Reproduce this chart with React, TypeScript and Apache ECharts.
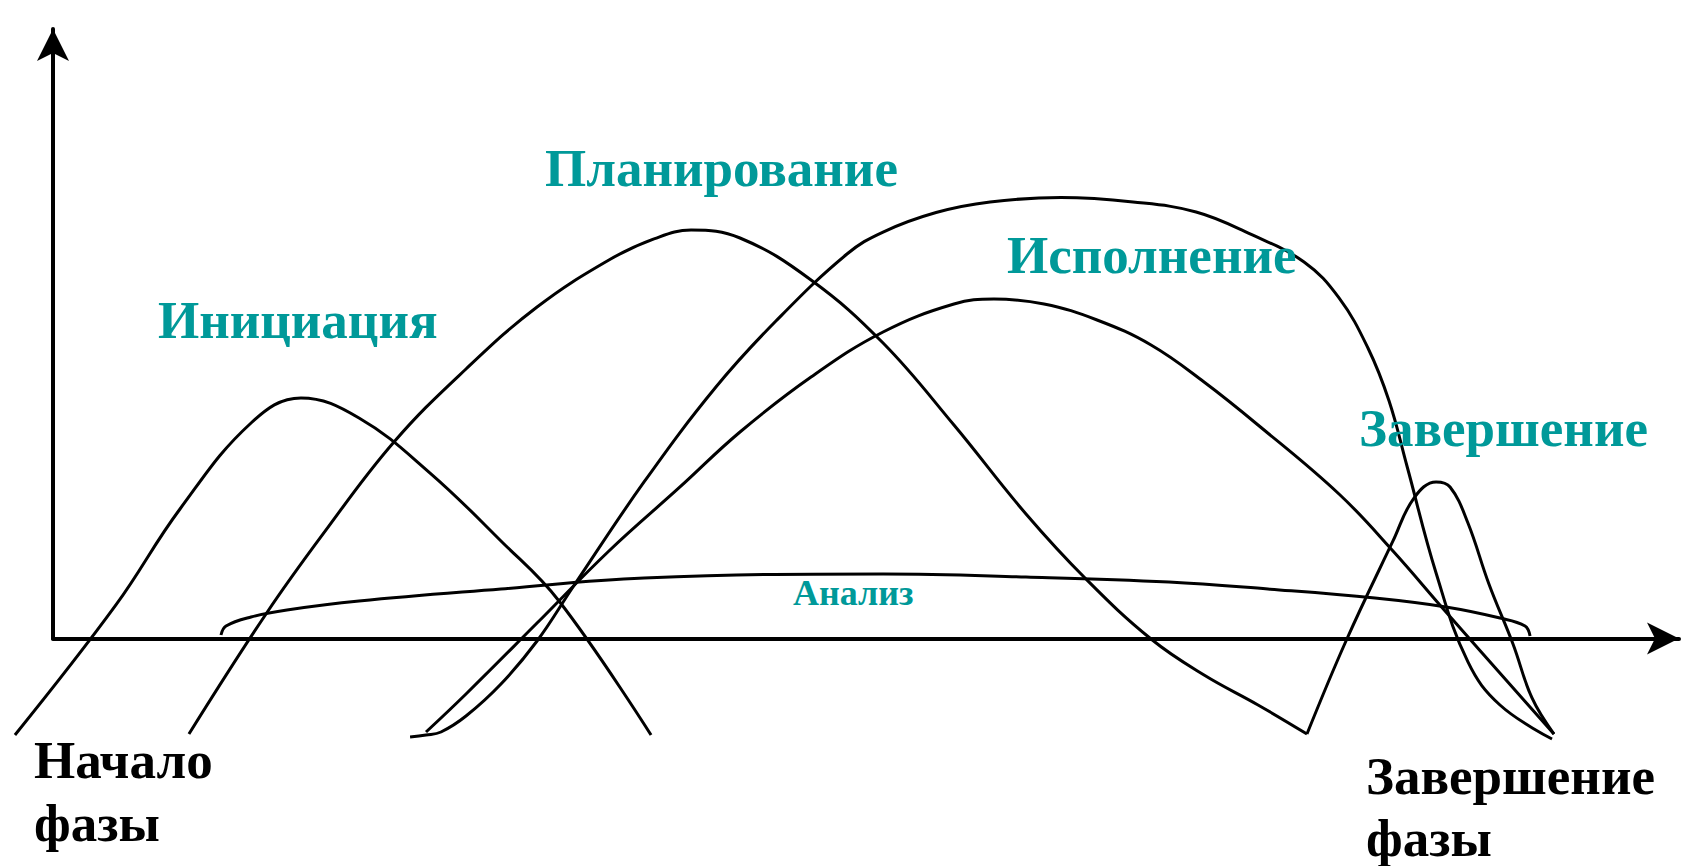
import React, { useEffect, useRef } from "react";
import * as echarts from "echarts";

// Curves: [time, level], axes span 0..100
const initiationCurve: number[][] = [
  [-2.34, -15.83], [3.87, 5.5], [7.81, 21.25], [12.18, 35.36], [15.25, 39.46],
  [18.82, 36.18], [23.19, 27.15], [27.55, 16.0], [31.12, 6.15], [36.78, -15.83],
];

const planningCurve: number[][] = [
  [8.36, -15.67], [13.1, 4.02], [16.61, 17.15], [20.97, 32.24], [25.4, 44.22],
  [29.77, 54.39], [34.19, 62.1], [37.0, 65.6], [39.24, 67.02], [42.25, 65.71],
  [46.62, 58.82], [51.05, 48.48], [55.41, 35.02], [59.84, 20.43], [63.53, 9.76],
  [67.53, -0.08], [70.79, -5.99], [74.11, -10.91], [77.12, -15.67],
];

const closingCurve: number[][] = [
  [77.12, -15.67], [79.52, -0.41], [82.41, 16.0], [83.7, 23.05], [85.06, 25.68],
  [85.92, 24.86], [87.02, 18.95], [88.31, 8.94], [89.79, -0.9], [90.96, -9.76],
  [92.31, -15.67],
];

const executionUpperCurve: number[][] = [
  [21.96, -16.16], [22.94, -15.83], [23.86, -15.34], [25.4, -12.72], [27.55, -7.47],
  [29.77, -0.41], [31.98, 8.45], [36.35, 25.68], [40.77, 41.26], [44.46, 52.09],
  [48.83, 63.08], [51.05, 66.69], [54.31, 69.89], [57.63, 71.62], [61.99, 72.35],
  [66.42, 71.62], [70.3, 69.98], [73.62, 66.37], [76.94, 61.77], [79.09, 55.87],
  [80.87, 47.66], [82.17, 38.96], [83.27, 28.3], [85.06, 10.75], [87.02, -3.85],
  [88.99, -10.91], [92.19, -16.49],
];

const executionLowerCurve: number[][] = [
  [22.94, -15.34], [25.4, -9.1], [29.77, 2.54], [34.19, 14.36], [38.56, 24.86],
  [42.25, 33.88], [46.62, 42.9], [51.05, 50.29], [55.41, 54.88], [57.87, 55.7],
  [60.95, 54.88], [64.21, 52.26], [67.53, 48.15], [70.79, 42.08], [74.11, 35.03],
  [79.09, 23.71], [82.41, 14.36], [85.67, 4.35], [92.31, -15.67],
];

const analysisCurve: number[][] = [
  [10.33, 0.57], [10.64, 2.05], [12.18, 3.53], [14.39, 4.68], [18.82, 6.15],
  [27.55, 8.12], [36.35, 9.93], [51.05, 10.58], [59.84, 10.09], [68.63, 9.27],
  [74.72, 8.12], [81.3, 6.64], [85.67, 5.17], [88.99, 3.36], [90.53, 2.05], [90.84, 0.41],
];

const phaseLabels = ["Инициация", "Планирование", "Исполнение", "Завершение"];
const analysisLabel = "Анализ";
const startLabel = ["Начало", "фазы"];
const endLabel = ["Завершение", "фазы"];

const TEAL = "#009999";
const BIG_FONT = 'bold 53px "Liberation Serif", "Times New Roman", serif';
const SMALL_FONT = 'bold 36px "Liberation Serif", "Times New Roman", serif';

// layout
const AXIS_LEFT = 53;
const GRID_RIGHT = 6;
const GRID_TOP = 29;
const GRID_BOTTOM = 227.5;
const WIDTH = 1685;
const X_MAX = 100;

export default function App() {
  const ref = useRef<HTMLDivElement>(null);

  useEffect(() => {
    document.body.style.margin = "0";
    if (!ref.current) return;
    const chart = echarts.init(ref.current, undefined, { renderer: "svg" });

    const curves = [
      initiationCurve,
      planningCurve,
      closingCurve,
      executionUpperCurve,
      executionLowerCurve,
      analysisCurve,
    ];

    // second (hidden) grid reaches the page's left edge so curves may start left of the y axis
    const pxPerUnit = (WIDTH - AXIS_LEFT - GRID_RIGHT) / X_MAX;
    const xMinWide = -AXIS_LEFT / pxPerUnit;

    const visibleAxis = {
      type: "value" as const,
      min: 0,
      max: 100,
      axisLine: {
        show: true,
        symbol: ["none", "arrow"],
        symbolSize: [24, 32],
        lineStyle: { color: "#000", width: 4 },
      },
      axisTick: { show: false },
      axisLabel: { show: false },
      splitLine: { show: false },
    };
    const hiddenAxis = {
      type: "value" as const,
      show: false,
      splitLine: { show: false },
    };

    const textEl = (text: string, x: number, y: number, font: string, fill: string) => ({
      type: "text",
      x,
      y,
      z: 10,
      style: { text, font, fill, textAlign: "left", textVerticalAlign: "middle" },
      silent: true,
    });

    chart.setOption({
      animation: false,
      backgroundColor: "#fff",
      grid: [
        { left: AXIS_LEFT, right: GRID_RIGHT, top: GRID_TOP, bottom: GRID_BOTTOM },
        { left: 0, right: GRID_RIGHT, top: GRID_TOP, bottom: GRID_BOTTOM },
      ],
      xAxis: [
        { ...visibleAxis, gridIndex: 0 },
        { ...hiddenAxis, gridIndex: 1, min: xMinWide, max: X_MAX },
      ],
      yAxis: [
        { ...visibleAxis, gridIndex: 0 },
        { ...hiddenAxis, gridIndex: 1, min: 0, max: 100 },
      ],
      series: curves.map((c) => ({
        type: "line",
        xAxisIndex: 1,
        yAxisIndex: 1,
        data: c,
        smooth: 0.4,
        showSymbol: false,
        clip: false,
        lineStyle: { color: "#000", width: 3 },
        silent: true,
      })),
      graphic: [
        textEl(phaseLabels[0], 158, 320, BIG_FONT, TEAL),
        textEl(phaseLabels[1], 545, 168, BIG_FONT, TEAL),
        textEl(phaseLabels[2], 1007, 255, BIG_FONT, TEAL),
        textEl(phaseLabels[3], 1359, 428, BIG_FONT, TEAL),
        textEl(analysisLabel, 793, 593, SMALL_FONT, TEAL),
        textEl(startLabel[0], 34, 760, BIG_FONT, "#000"),
        textEl(startLabel[1], 34, 823, BIG_FONT, "#000"),
        textEl(endLabel[0], 1366, 776, BIG_FONT, "#000"),
        textEl(endLabel[1], 1366, 838, BIG_FONT, "#000"),
      ],
    });

    return () => chart.dispose();
  }, []);

  return <div ref={ref} style={{ width: WIDTH, height: 866, background: "#fff" }} />;
}
